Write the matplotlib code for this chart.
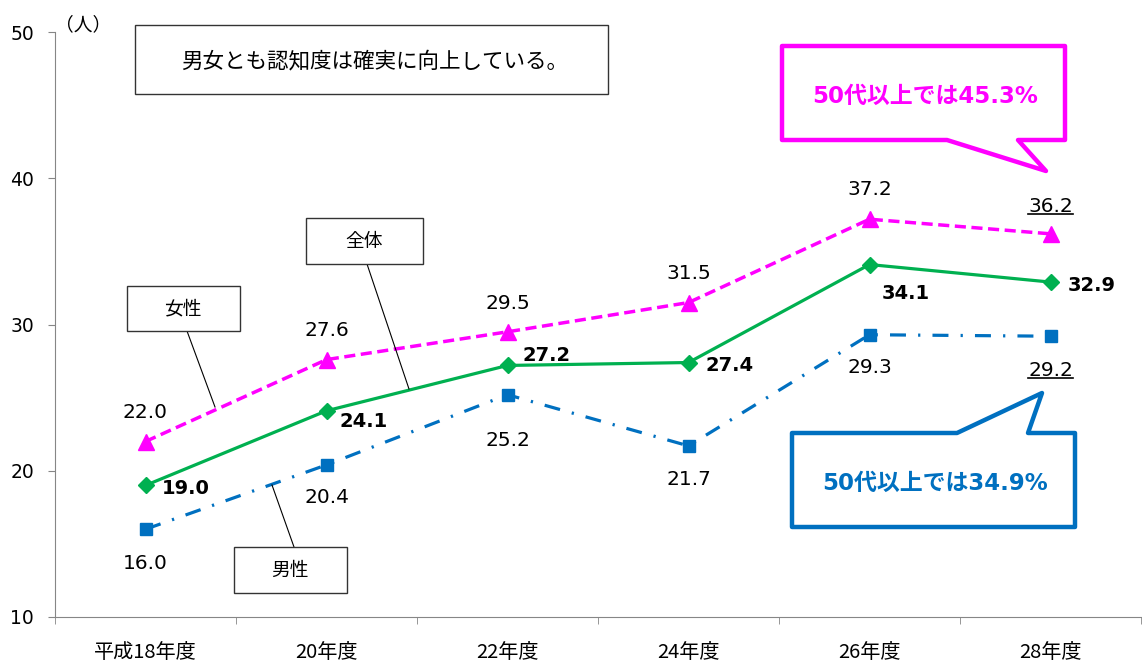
import numpy as np
from matplotlib import pyplot as plt
from matplotlib.patches import Rectangle, Polygon
from matplotlib.lines import Line2D

#%% Data (認知度, 人)

years = ['平成18年度', '20年度', '22年度', '24年度', '26年度', '28年度']
female = [22.0, 27.6, 29.5, 31.5, 37.2, 36.2]
total = [19.0, 24.1, 27.2, 27.4, 34.1, 32.9]
male = [16.0, 20.4, 25.2, 21.7, 29.3, 29.2]

title_text = '男女とも認知度は確実に向上している。'
note_female = '50代以上では45.3%'
note_male = '50代以上では34.9%'

#%% Plot setup

W, H = 1142, 661
plt.rcParams['font.family'] = ['DejaVu Sans', 'Noto Sans CJK JP']
jp = ['Noto Sans CJK JP', 'DejaVu Sans']

pink = '#FF00FF'
green = '#00B050'
blue = '#0070C0'
axcol = '#868686'

fig = plt.figure(figsize=(W / 100, H / 100), dpi=100)
ax = fig.add_axes([55 / W, 1 - 617 / H, (1141 - 55) / W, (617 - 32) / H])

x = np.arange(len(years))
ax.plot(x, female, color=pink, lw=2.5, linestyle=(0, (3.2, 1.6)),
        marker='^', ms=11, zorder=3)
ax.plot(x, total, color=green, lw=2.3, marker='D', ms=8.5, zorder=3)
ax.plot(x, male, color=blue, lw=2.3, linestyle=(0, (5, 3.8, 0.7, 3.8)),
        marker='s', ms=8.5, zorder=3)

ax.set_xlim(-0.5, len(years) - 0.5)
ax.set_ylim(10, 50)
ax.set_yticks([10, 20, 30, 40, 50])
ax.set_xticks(x)
ax.set_xticklabels(years, family=jp, fontsize=14.5)
ax.set_xticks(np.arange(len(years) + 1) - 0.5, minor=True)
ax.tick_params(axis='x', which='major', length=0, pad=18)
ax.tick_params(axis='x', which='minor', length=5, direction='out', color=axcol)
ax.tick_params(axis='y', length=5, direction='out', color=axcol, pad=10, labelsize=13.5)
for s in ['top', 'right']:
    ax.spines[s].set_visible(False)
for s in ['left', 'bottom']:
    ax.spines[s].set_color(axcol)

# data labels, offsets in pixels (dx, dy down)
k = 0.72
fem_off = [(0, -29), (0, -29), (0, -28), (0, -29), (0, -30), (0, -27)]
tot_off = [(40, 3), (37, 11), (39, -10), (41, 3), (36, 29), (41, 3)]
mal_off = [(0, 34), (0, 33), (0, 46), (0, 34), (0, 33), (0, 34)]

underlined = []
for i in range(len(years)):
    tf = ax.annotate('%.1f' % female[i], (x[i], female[i]),
                     xytext=(fem_off[i][0] * k, -fem_off[i][1] * k),
                     textcoords='offset points', ha='center', va='center', fontsize=14.5)
    ax.annotate('%.1f' % total[i], (x[i], total[i]),
                xytext=(tot_off[i][0] * k, -tot_off[i][1] * k),
                textcoords='offset points', ha='center', va='center',
                fontsize=14, fontweight='bold')
    tm = ax.annotate('%.1f' % male[i], (x[i], male[i]),
                     xytext=(mal_off[i][0] * k, -mal_off[i][1] * k),
                     textcoords='offset points', ha='center', va='center', fontsize=14.5)
    if i == len(years) - 1:
        underlined += [tf, tm]

# underline last labels
fig.canvas.draw()
for t in underlined:
    bb = t.get_window_extent()
    yb = bb.y0 + 2
    fig.add_artist(Line2D([bb.x0 / W, bb.x1 / W], [yb / H, yb / H],
                          transform=fig.transFigure, color='black', lw=1.2))

#%% Annotations in figure pixels

def P(px, py):
    return (px / W, 1 - py / H)

def box(x0, y0, x1, y1, lw=1.0, ec='#333333'):
    r = Rectangle(P(x0, y1), (x1 - x0) / W, (y1 - y0) / H, transform=fig.transFigure,
                  facecolor='white', edgecolor=ec, lw=lw, zorder=5)
    fig.add_artist(r)

def line(p0, p1):
    a, b = P(*p0), P(*p1)
    fig.add_artist(Line2D([a[0], b[0]], [a[1], b[1]], transform=fig.transFigure,
                          color='black', lw=0.8, zorder=4))

fig.text(*P(83, 25), '（人）', family=jp, fontsize=13.5, ha='center', va='center')

box(135, 25, 608, 94)
fig.text(*P(375, 61), title_text, family=jp, fontsize=15.5, ha='center', va='center', zorder=6)

# series labels
box(127, 286, 240, 331)
fig.text(*P(183, 309), '女性', family=jp, fontsize=13.5, ha='center', va='center', zorder=6)
line((187, 331), (215, 407))

box(306, 218, 423, 264)
fig.text(*P(364, 241), '全体', family=jp, fontsize=13.5, ha='center', va='center', zorder=6)
line((367, 264), (409, 389))

box(234, 547, 347, 593)
fig.text(*P(290, 570), '男性', family=jp, fontsize=13.5, ha='center', va='center', zorder=6)
line((294, 547), (272, 485))

# callouts
pink_pts = [(782, 46), (1065, 46), (1065, 140), (1018, 140), (1046, 171), (947, 140), (782, 140)]
fig.add_artist(Polygon([P(*p) for p in pink_pts], closed=True, transform=fig.transFigure,
                       facecolor='white', edgecolor=pink, lw=3.2, joinstyle='round', zorder=5))
fig.text(*P(925, 96), note_female, color=pink, fontsize=16.5, fontweight='bold',
         ha='center', va='center', zorder=6)

blue_pts = [(792, 433), (957, 433), (1042, 393), (1028, 433), (1075, 433), (1075, 527), (792, 527)]
fig.add_artist(Polygon([P(*p) for p in blue_pts], closed=True, transform=fig.transFigure,
                       facecolor='white', edgecolor=blue, lw=3.2, joinstyle='round', zorder=5))
fig.text(*P(935, 483), note_male, color=blue, fontsize=16.5, fontweight='bold',
         ha='center', va='center', zorder=6)

plt.savefig('out.png', dpi=100)
